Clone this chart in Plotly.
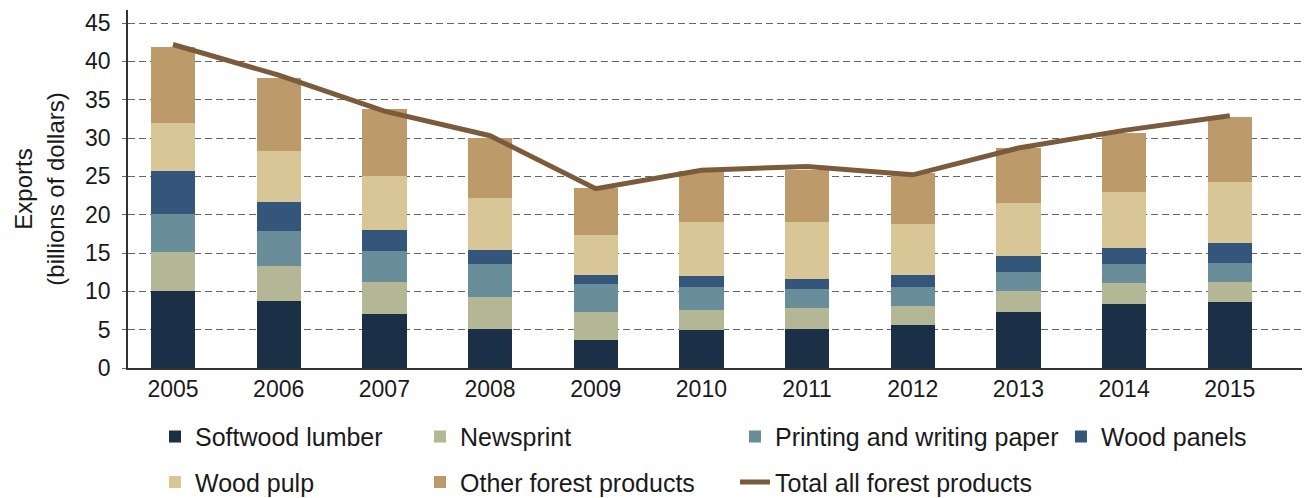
import plotly.graph_objects as go

years = [2005, 2006, 2007, 2008, 2009, 2010, 2011, 2012, 2013, 2014, 2015]

softwood_lumber = [10.0, 8.7, 7.1, 5.1, 3.7, 4.9, 5.1, 5.6, 7.3, 8.3, 8.6]
newsprint = [5.1, 4.6, 4.1, 4.2, 3.6, 2.65, 2.7, 2.55, 2.8, 2.75, 2.65]
printing_writing = [5.05, 4.55, 4.1, 4.3, 3.7, 3.05, 2.5, 2.45, 2.4, 2.55, 2.45]
wood_panels = [5.5, 3.85, 2.7, 1.8, 1.15, 1.4, 1.35, 1.55, 2.15, 2.0, 2.6]
wood_pulp = [6.3, 6.6, 7.1, 6.8, 5.15, 7.1, 7.4, 6.65, 6.85, 7.4, 7.9]
other_forest = [9.9, 9.5, 8.7, 7.85, 6.2, 6.6, 6.8, 6.65, 7.2, 7.7, 8.6]
total_all = [42.2, 38.2, 33.5, 30.3, 23.4, 25.8, 26.3, 25.2, 28.7, 31.0, 32.9]

y_ticks = [0, 5, 10, 15, 20, 25, 30, 35, 40, 45]

FONT = "Liberation Sans, Arial, sans-serif"

series = [
    ("Softwood lumber", softwood_lumber, "#1b2f46", "legend"),
    ("Newsprint", newsprint, "#b3b795", "legend2"),
    ("Printing and writing paper", printing_writing, "#6a8d9a", "legend3"),
    ("Wood panels", wood_panels, "#34567b", "legend4"),
    ("Wood pulp", wood_pulp, "#d8c697", "legend"),
    ("Other forest products", other_forest, "#bc9a6a", "legend2"),
]

fig = go.Figure()
for name, vals, color, lg in series:
    fig.add_trace(go.Bar(
        x=years, y=vals, name=name, marker=dict(color=color, line=dict(width=0)),
        width=0.42, legend=lg, legendgroup=name,
    ))

fig.add_trace(go.Scatter(
    x=years, y=total_all, name="Total all forest products", mode="lines",
    line=dict(color="#7b5b3c", width=5), legend="legend3",
    legendgroup="Total all forest products",
))

# plot area in page pixels: x 128..1308, y 10..368.3 (page has an 8px body margin)
def lx(px):
    return (px - 128) / 1180.0

def ly(py):
    return (368.3 - py) / 358.3

legend_common = dict(
    orientation="v", xanchor="left", yanchor="top",
    font=dict(family=FONT, size=25, color="#1a1a1a"),
    bgcolor="rgba(0,0,0,0)", tracegroupgap=10, traceorder="grouped",
)

fig.update_layout(
    barmode="stack",
    width=1302, height=504,
    margin=dict(l=120, r=2, t=2, b=144, pad=0),
    paper_bgcolor="white", plot_bgcolor="white",
    font=dict(family=FONT, size=23, color="#1a1a1a"),
    legend=dict(x=lx(155), y=ly(414), **legend_common),
    legend2=dict(x=lx(420), y=ly(414), **legend_common),
    legend3=dict(x=lx(735), y=ly(414), **legend_common),
    legend4=dict(x=lx(1061), y=ly(414), **legend_common),
    xaxis=dict(
        range=[2004.574, 2015.74], tickvals=years, ticktext=[str(y) for y in years],
        showgrid=False, zeroline=False, showline=True, linecolor="#333333", linewidth=1.5,
        ticks="", tickfont=dict(size=23), ticklabelstandoff=0, automargin=False,
    ),
    yaxis=dict(
        range=[0, 46.7], tickvals=y_ticks, showgrid=True, gridcolor="#666666",
        griddash="7px,4px", gridwidth=1, zeroline=False, showline=True,
        linecolor="#333333", linewidth=1.5, ticks="outside", ticklen=4,
        tickcolor="#666666", tickfont=dict(size=23), ticklabelstandoff=7,
        automargin=False,
        title=dict(text="Exports<br>(billions of dollars)", font=dict(size=24), standoff=14),
    ),
)

fig.write_html("out.html")
